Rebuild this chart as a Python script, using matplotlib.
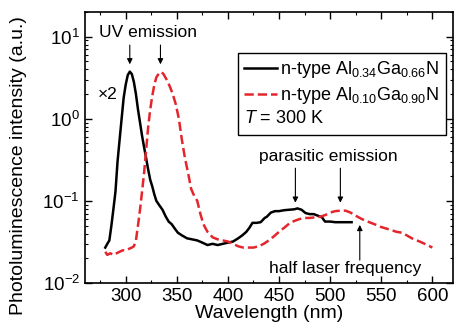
import matplotlib
matplotlib.use("Agg")
import matplotlib.pyplot as plt
from matplotlib.lines import Line2D
from matplotlib.ticker import MultipleLocator

plt.rcParams['font.family'] = 'Liberation Sans'
plt.rcParams['mathtext.fontset'] = 'custom'
plt.rcParams['mathtext.rm'] = 'Liberation Sans'
plt.rcParams['mathtext.it'] = 'Liberation Sans:italic'
plt.rcParams['mathtext.bf'] = 'Liberation Sans:bold'

# n-type Al0.34Ga0.66N (black, solid)
wl_034 = [280, 282, 284, 286, 288, 290, 292, 294, 296, 298, 300, 302, 304, 306, 308,
          310, 312, 314, 316, 318, 320, 322, 324, 326, 328, 330, 333, 336, 339, 342,
          345, 348, 351, 355, 360, 365, 370, 375, 380, 385, 390, 395, 400, 405, 410,
          414, 418, 421, 424, 428, 432, 436, 438, 442, 446, 450, 455, 460, 465, 468,
          472, 476, 480, 484, 488, 492, 495, 500, 505, 510, 515, 521]
pl_034 = [0.027, 0.030, 0.033, 0.050, 0.080, 0.13, 0.30, 0.55, 1.0, 1.8, 2.6, 3.4, 3.75, 3.5, 2.8,
          2.0, 1.3, 0.9, 0.62, 0.45, 0.33, 0.24, 0.18, 0.15, 0.12, 0.10, 0.088, 0.078, 0.065, 0.056,
          0.052, 0.046, 0.041, 0.038, 0.035, 0.034, 0.033, 0.031, 0.029, 0.030, 0.029, 0.030, 0.031, 0.032, 0.035,
          0.038, 0.042, 0.047, 0.054, 0.054, 0.055, 0.062, 0.064, 0.072, 0.075, 0.075, 0.077, 0.078, 0.079, 0.081,
          0.078, 0.071, 0.069, 0.069, 0.066, 0.063, 0.056, 0.056, 0.055, 0.055, 0.055, 0.055]

# n-type Al0.10Ga0.90N (red, dashed)
wl_010 = [280, 282, 285, 288, 291, 294, 297, 300, 303, 306, 308, 310, 312, 314, 316,
          318, 320, 322, 324, 326, 328, 330, 333, 335, 337, 340, 343, 346, 349, 352,
          355, 358, 361, 364, 367, 370, 373, 376, 380, 385, 390, 395, 400, 405, 410,
          415, 420, 425, 430, 435, 440, 445, 450, 455, 460, 465, 470, 475, 480, 485,
          490, 495, 500, 505, 510, 515, 520, 525, 530, 535, 540, 545, 550, 555, 560,
          565, 570, 575, 580, 585, 590, 595, 600]
pl_010 = [0.024, 0.022, 0.023, 0.022, 0.023, 0.024, 0.025, 0.025, 0.026, 0.027, 0.028, 0.033, 0.050, 0.078, 0.13,
          0.22, 0.42, 0.8, 1.3, 1.9, 2.6, 3.2, 3.65, 3.7, 3.5, 3.0, 2.5, 2.0, 1.5, 1.0,
          0.55, 0.33, 0.22, 0.14, 0.115, 0.10, 0.07, 0.052, 0.042, 0.036, 0.034, 0.033, 0.032, 0.030, 0.028,
          0.027, 0.027, 0.027, 0.028, 0.030, 0.033, 0.037, 0.042, 0.047, 0.053, 0.057, 0.060, 0.062, 0.062, 0.063,
          0.064, 0.067, 0.072, 0.075, 0.076, 0.076, 0.072, 0.066, 0.061, 0.057, 0.054, 0.051, 0.048, 0.046, 0.044,
          0.042, 0.041, 0.038, 0.035, 0.033, 0.031, 0.029, 0.027]

red = '#e4262c'

fig = plt.figure(figsize=(4.56, 3.31), dpi=100)
ax = fig.add_axes([0.186, 0.145, 0.807, 0.819])

ax.plot(wl_034, pl_034, color='black', lw=1.8)
ax.plot(wl_010, pl_010, color=red, lw=1.8, ls='--')

ax.set_yscale('log')
ax.set_xlim(260, 620)
ax.set_ylim(1e-2, 20)
ax.xaxis.set_major_locator(MultipleLocator(50))
ax.xaxis.set_minor_locator(MultipleLocator(25))
ax.tick_params(which='both', direction='in', top=True, right=True, labelsize=13.5)
ax.tick_params(which='major', length=5, width=1)
ax.tick_params(which='minor', length=2.5, width=0.8)
for s in ax.spines.values():
    s.set_linewidth(1.2)

ax.set_xlabel('Wavelength (nm)', fontsize=14, labelpad=0)
ax.set_ylabel('Photoluminescence intensity (a.u.)', fontsize=14)
ax.yaxis.set_label_coords(-0.157, 0.432)

# annotations
arr = dict(arrowstyle='-|>', color='black', lw=0.8, mutation_scale=8, shrinkA=0, shrinkB=0)
ax.text(321.5, 11.2, 'UV emission', fontsize=12.5, ha='center', va='center')
ax.annotate('', xy=(304, 4.6), xytext=(304, 7.9), arrowprops=arr)
ax.annotate('', xy=(334, 4.6), xytext=(334, 7.9), arrowprops=arr)
ax.text(282, 1.95, '×2', fontsize=12.5, ha='center', va='center')

ax.text(498, 0.344, 'parasitic emission', fontsize=12.5, ha='center', va='center')
ax.annotate('', xy=(466, 0.095), xytext=(466, 0.25), arrowprops=arr)
ax.annotate('', xy=(510, 0.095), xytext=(510, 0.25), arrowprops=arr)

ax.text(515, 0.0152, 'half laser frequency', fontsize=12.5, ha='center', va='center')
ax.annotate('', xy=(529, 0.051), xytext=(529, 0.019), arrowprops=arr)

handles = [Line2D([], [], color='black', lw=1.8),
           Line2D([], [], color=red, lw=1.8, ls='--'),
           Line2D([], [], color='none')]
labels = ['n-type Al$_{0.34}$Ga$_{0.66}$N', 'n-type Al$_{0.10}$Ga$_{0.90}$N', ' ']
leg = ax.legend(handles, labels, loc='upper right', bbox_to_anchor=(0.981, 0.85),
                fontsize=13, frameon=True, fancybox=False, edgecolor='black',
                framealpha=1, handlelength=1.8, handletextpad=0.2, borderpad=0.35,
                labelspacing=0.3, borderaxespad=0)
leg.get_frame().set_linewidth(1.0)
ax.text(0.432, 0.605, '$T$ = 300 K', transform=ax.transAxes, fontsize=13,
        ha='left', va='center', zorder=10)

fig.savefig('out.png', dpi=100)
